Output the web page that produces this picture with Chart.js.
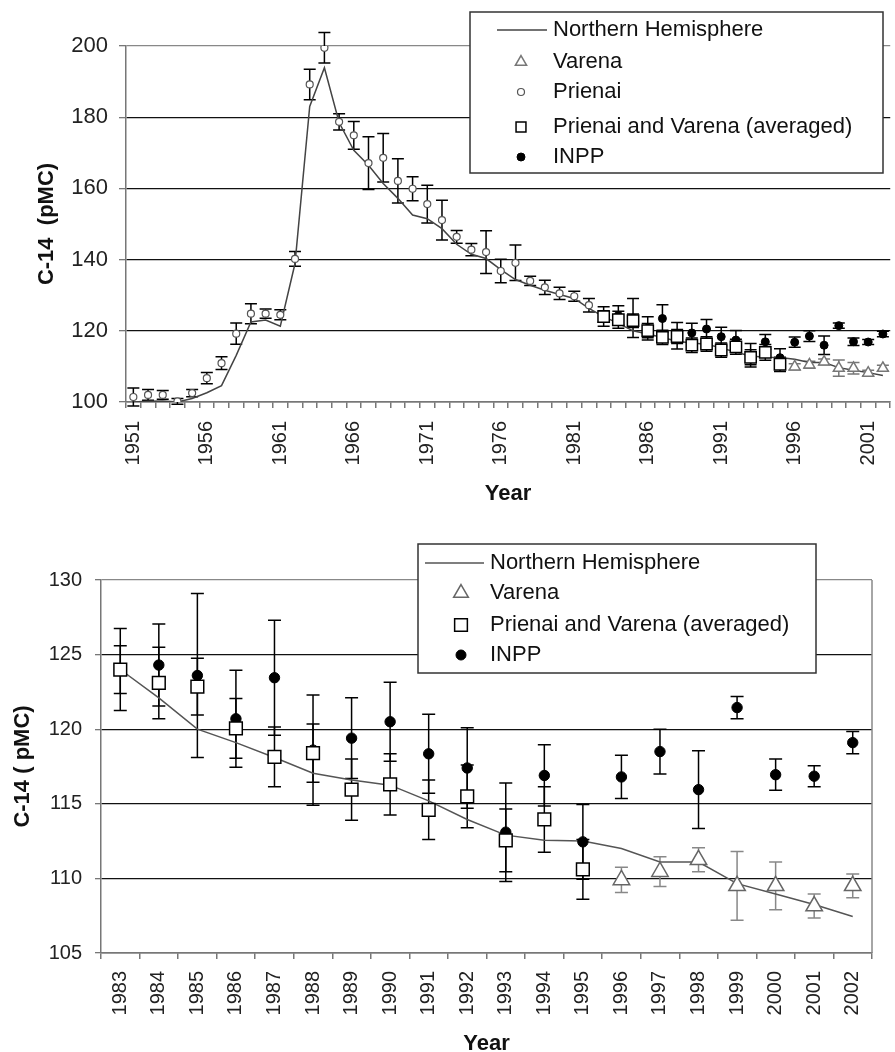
<!DOCTYPE html>
<html>
<head>
<meta charset="utf-8">
<script src="https://cdn.jsdelivr.net/npm/chart.js@4.4.1/dist/chart.umd.min.js"></script>
<style>
  html, body { margin: 0; padding: 0; background: #fff; overflow: hidden; width: 895px; height: 1052px; }
  #topChart { position: absolute; left: 0; top: 0; }
  #bottomChart { position: absolute; left: 0; top: 515px; }
</style>
</head>
<body>
<canvas id="topChart" width="920" height="515"></canvas>
<canvas id="bottomChart" width="895" height="537"></canvas>
<script>
// ---- data ----
const earlyYears = ['1951','1952','1953','1954','1955','1956','1957','1958','1959','1960',
  '1961','1962','1963','1964','1965','1966','1967','1968','1969','1970',
  '1971','1972','1973','1974','1975','1976','1977','1978','1979','1980','1981','1982'];
const recentYears = ['1983','1984','1985','1986','1987','1988','1989','1990','1991','1992',
  '1993','1994','1995','1996','1997','1998','1999','2000','2001','2002'];

const prienai = [101.4, 102.0, 102.0, 100.2, 102.5, 106.7, 110.9, 119.2, 124.8, 124.8,
  124.5, 140.2, 189.2, 199.5, 178.7, 174.9, 167.1, 168.6, 162.1, 159.9,
  155.6, 151.1, 146.4, 142.8, 142.1, 136.8, 139.1, 134.0, 132.2, 130.5, 129.7, 127.2];
const prienaiErr = [2.5, 1.5, 1.2, 0.8, 1.0, 1.6, 1.8, 3.0, 2.8, 1.3,
  1.4, 2.1, 4.3, 4.3, 2.3, 3.9, 7.4, 6.8, 6.2, 3.4,
  5.3, 5.6, 1.8, 1.7, 6.0, 3.3, 5.0, 1.3, 2.0, 1.7, 1.4, 1.9];
const nhEarly = [100.0, 100.2, 100.3, 100.0, 101.0, 102.6, 104.6, 113.1, 122.5, 123.0,
  121.3, 138.9, 183.0, 193.9, 178.5, 170.7, 166.5, 161.4, 157.2, 152.5,
  151.5, 148.7, 144.3, 141.5, 140.3, 137.2, 134.4, 132.8, 131.4, 130.2, 129.1, 126.3];

const nhRecent = [124.0, 122.1, 120.0, 119.1, 118.1, 117.05, 116.6, 116.25, 115.2, 113.95,
  112.9, 112.55, 112.5, 112.0, 111.1, 111.1, 109.65, 108.95, 108.25, 107.45];
const averaged = [124.0, 123.1, 122.85, 120.05, 118.15, 118.4, 115.95, 116.3, 114.6, 115.5,
  112.55, 113.95, 110.6, null, null, null, null, null, null, null];
const averagedErr = [1.6, 2.4, 1.9, 2.0, 2.0, 1.95, 2.05, 2.05, 2.0, 2.1,
  2.1, 2.2, 2.0, null, null, null, null, null, null, null];
const inpp = [124.0, 124.3, 123.6, 120.7, 123.45, 118.6, 119.4, 120.5, 118.35, 117.4,
  113.1, 116.9, 112.45, 116.8, 118.5, 115.95, 121.45, 116.95, 116.85, 119.1];
const inppErr = [2.75, 2.75, 5.5, 3.25, 3.85, 3.7, 2.7, 2.65, 2.65, 2.7,
  3.3, 2.05, 2.5, 1.45, 1.5, 2.6, 0.75, 1.05, 0.7, 0.75];
const varena = [null, null, null, null, null, null, null, null, null, null,
  null, null, null, 109.9, 110.45, 111.25, 109.5, 109.5, 108.15, 109.5];
const varenaErr = [null, null, null, null, null, null, null, null, null, null,
  null, null, null, 0.85, 1.0, 0.8, 2.3, 1.6, 0.8, 0.8];

const FONT = "'Liberation Sans', Arial, sans-serif";

// vertical error bars with caps, drawn under the markers
const errorBars = {
  id: 'errorBars',
  beforeDatasetsDraw(chart) {
    const { ctx } = chart;
    const y = chart.scales.y;
    chart.data.datasets.forEach((ds, i) => {
      if (!ds.errors) return;
      const meta = chart.getDatasetMeta(i);
      ctx.save();
      ctx.strokeStyle = ds.errorColor || '#000';
      ctx.lineWidth = ds.errorWidth || 1.5;
      const w = (ds.capWidth || 12) / 2;
      meta.data.forEach((pt, j) => {
        const v = ds.data[j], e = ds.errors[j];
        if (v == null || e == null) return;
        const top = y.getPixelForValue(v + e);
        const bot = y.getPixelForValue(v - e);
        ctx.beginPath();
        ctx.moveTo(pt.x, top); ctx.lineTo(pt.x, bot);
        ctx.moveTo(pt.x - w, top); ctx.lineTo(pt.x + w, top);
        ctx.moveTo(pt.x - w, bot); ctx.lineTo(pt.x + w, bot);
        ctx.stroke();
      });
      ctx.restore();
    });
  }
};

// right-hand plot frame line
const plotFrame = {
  id: 'plotFrame',
  beforeDatasetsDraw(chart, args, o) {
    if (!o || !o.right) return;
    const { ctx, chartArea } = chart;
    ctx.save();
    ctx.strokeStyle = '#888';
    ctx.lineWidth = 1.5;
    ctx.beginPath();
    ctx.moveTo(chartArea.right, chartArea.top);
    ctx.lineTo(chartArea.right, chartArea.bottom);
    ctx.stroke();
    ctx.restore();
  }
};

// boxed legend placed over the plot, Excel style
const boxLegend = {
  id: 'boxLegend',
  afterDraw(chart, args, o) {
    const { ctx } = chart;
    ctx.save();
    ctx.fillStyle = '#fff';
    ctx.fillRect(o.x, o.y, o.w, o.h);
    ctx.strokeStyle = '#333';
    ctx.lineWidth = 1.5;
    ctx.strokeRect(o.x, o.y, o.w, o.h);
    ctx.font = '22px ' + FONT;
    ctx.textBaseline = 'middle';
    o.items.forEach((it, i) => {
      const ds = chart.data.datasets[it.ds];
      const yy = o.rows[i];
      if (ds.showLine !== false) {
        ctx.strokeStyle = ds.borderColor;
        ctx.lineWidth = 1.5;
        ctx.beginPath();
        ctx.moveTo(o.lineX0, yy); ctx.lineTo(o.lineX1, yy);
        ctx.stroke();
      } else {
        ctx.fillStyle = ds.pointBackgroundColor;
        ctx.strokeStyle = ds.pointBorderColor;
        ctx.lineWidth = ds.pointBorderWidth;
        Chart.helpers.drawPoint(ctx, { pointStyle: ds.pointStyle, radius: it.r, rotation: 0, borderWidth: ds.pointBorderWidth }, o.symX, yy);
      }
      ctx.fillStyle = '#111';
      ctx.fillText(ds.label, o.textX, yy);
    });
    ctx.restore();
  }
};

function nulls(n) { return new Array(n).fill(null); }

function axisX(height, pad, everyN, titleBottom) {
  return {
    type: 'category',
    offset: true,
    grid: { offset: true, drawOnChartArea: false, drawTicks: true, tickLength: 6, color: '#777', lineWidth: 1.5 },
    border: { color: '#777', width: 1.5 },
    ticks: {
      autoSkip: false, minRotation: 90, maxRotation: 90, padding: pad,
      color: '#222', font: { size: 20, family: FONT },
      callback: function (val, i) { return i % everyN === 0 ? this.getLabelForValue(val) : ''; }
    },
    title: { display: true, text: 'Year', color: '#111', font: { size: 22, weight: 'bold', family: FONT }, padding: { top: 0, bottom: titleBottom } },
    afterFit: s => { s.height = height; }
  };
}

function axisY(min, max, step, width, fontSize, pad, tickLen, title, titlePad) {
  return {
    min: min, max: max,
    ticks: { stepSize: step, padding: pad, color: '#222', font: { size: fontSize, family: FONT } },
    grid: {
      color: c => (c.tick && c.tick.value === max) ? '#888' : '#111',
      lineWidth: 1.3, tickColor: '#777', tickLength: tickLen
    },
    border: { color: '#777', width: 1.5 },
    title: { display: true, text: title, color: '#111', font: { size: 22, weight: 'bold', family: FONT }, padding: { top: titlePad, bottom: 0 } },
    afterFit: s => { s.width = width; }
  };
}

// ---- top chart: 1951-2002 ----
const topLabels = earlyYears.concat(recentYears);
const E = earlyYears.length, R = recentYears.length;

new Chart(document.getElementById('topChart'), {
  type: 'line',
  data: {
    labels: topLabels,
    datasets: [
      { label: 'Northern Hemisphere', data: nhEarly.concat(nhRecent), borderColor: '#444', borderWidth: 1.5,
        pointRadius: 0, tension: 0, order: 5 },
      { label: 'Varena', data: nulls(E).concat(varena), errors: nulls(E).concat(varenaErr), showLine: false,
        pointStyle: 'triangle', pointRadius: 6.3, pointBackgroundColor: '#fff', pointBorderColor: '#777', pointBorderWidth: 1.5,
        errorColor: '#777', capWidth: 12 },
      { label: 'Prienai', data: prienai.concat(nulls(R)), errors: prienaiErr.concat(nulls(R)), showLine: false,
        pointStyle: 'circle', pointRadius: 3.5, pointBackgroundColor: '#fff', pointBorderColor: '#555', pointBorderWidth: 1.2,
        capWidth: 12 },
      { label: 'Prienai and Varena (averaged)', data: nulls(E).concat(averaged), errors: nulls(E).concat(averagedErr), showLine: false,
        pointStyle: 'rect', pointRadius: 8, pointBackgroundColor: '#fff', pointBorderColor: '#000', pointBorderWidth: 1.5,
        capWidth: 12 },
      { label: 'INPP', data: nulls(E).concat(inpp), errors: nulls(E).concat(inppErr), showLine: false,
        pointStyle: 'circle', pointRadius: 4, pointBackgroundColor: '#000', pointBorderColor: '#000', pointBorderWidth: 1,
        capWidth: 12 }
    ]
  },
  options: {
    responsive: false,
    animation: false,
    layout: { padding: { left: 0, top: 46, right: 12.4, bottom: 8 } },
    plugins: {
      legend: { display: false },
      tooltip: { enabled: false },
      boxLegend: {
        x: 470, y: 12, w: 413, h: 161,
        rows: [30, 62, 92, 127, 157],
        lineX0: 497, lineX1: 547, symX: 521, textX: 553,
        items: [{ ds: 0 }, { ds: 1, r: 6.5 }, { ds: 2, r: 3.5 }, { ds: 3, r: 7 }, { ds: 4, r: 4 }]
      }
    },
    scales: {
      x: axisX(105, 13, 5, 0),
      y: axisY(100, 200, 20, 126, 22, 11, 7, 'C-14  (pMC)', 34)
    }
  },
  plugins: [errorBars, boxLegend]
});

// ---- bottom chart: 1983-2002 ----
new Chart(document.getElementById('bottomChart'), {
  type: 'line',
  data: {
    labels: recentYears,
    datasets: [
      { label: 'Northern Hemisphere', data: nhRecent, borderColor: '#555', borderWidth: 1.5,
        pointRadius: 0, tension: 0, order: 5 },
      { label: 'Varena', data: varena, errors: varenaErr, showLine: false,
        pointStyle: 'triangle', pointRadius: 9.5, pointBackgroundColor: '#fff', pointBorderColor: '#666', pointBorderWidth: 1.5,
        errorColor: '#888', capWidth: 13 },
      { label: 'Prienai and Varena (averaged)', data: averaged, errors: averagedErr, showLine: false,
        pointStyle: 'rect', pointRadius: 9, pointBackgroundColor: '#fff', pointBorderColor: '#000', pointBorderWidth: 1.5,
        capWidth: 13 },
      { label: 'INPP', data: inpp, errors: inppErr, showLine: false,
        pointStyle: 'circle', pointRadius: 5.2, pointBackgroundColor: '#000', pointBorderColor: '#000', pointBorderWidth: 1,
        capWidth: 13 }
    ]
  },
  options: {
    responsive: false,
    animation: false,
    layout: { padding: { left: 0, top: 65, right: 23, bottom: 0 } },
    plugins: {
      legend: { display: false },
      tooltip: { enabled: false },
      plotFrame: { right: true },
      boxLegend: {
        x: 418, y: 29, w: 398, h: 129,
        rows: [48, 78, 110, 140],
        lineX0: 425, lineX1: 484, symX: 461, textX: 490,
        items: [{ ds: 0 }, { ds: 1, r: 8.5 }, { ds: 2, r: 9 }, { ds: 3, r: 5 }]
      }
    },
    scales: {
      x: axisX(99, 12, 1, -5),
      y: axisY(105, 130, 5, 101, 20, 13, 6, 'C-14 ( pMC)', 10)
    }
  },
  plugins: [errorBars, plotFrame, boxLegend]
});
</script>
</body>
</html>
